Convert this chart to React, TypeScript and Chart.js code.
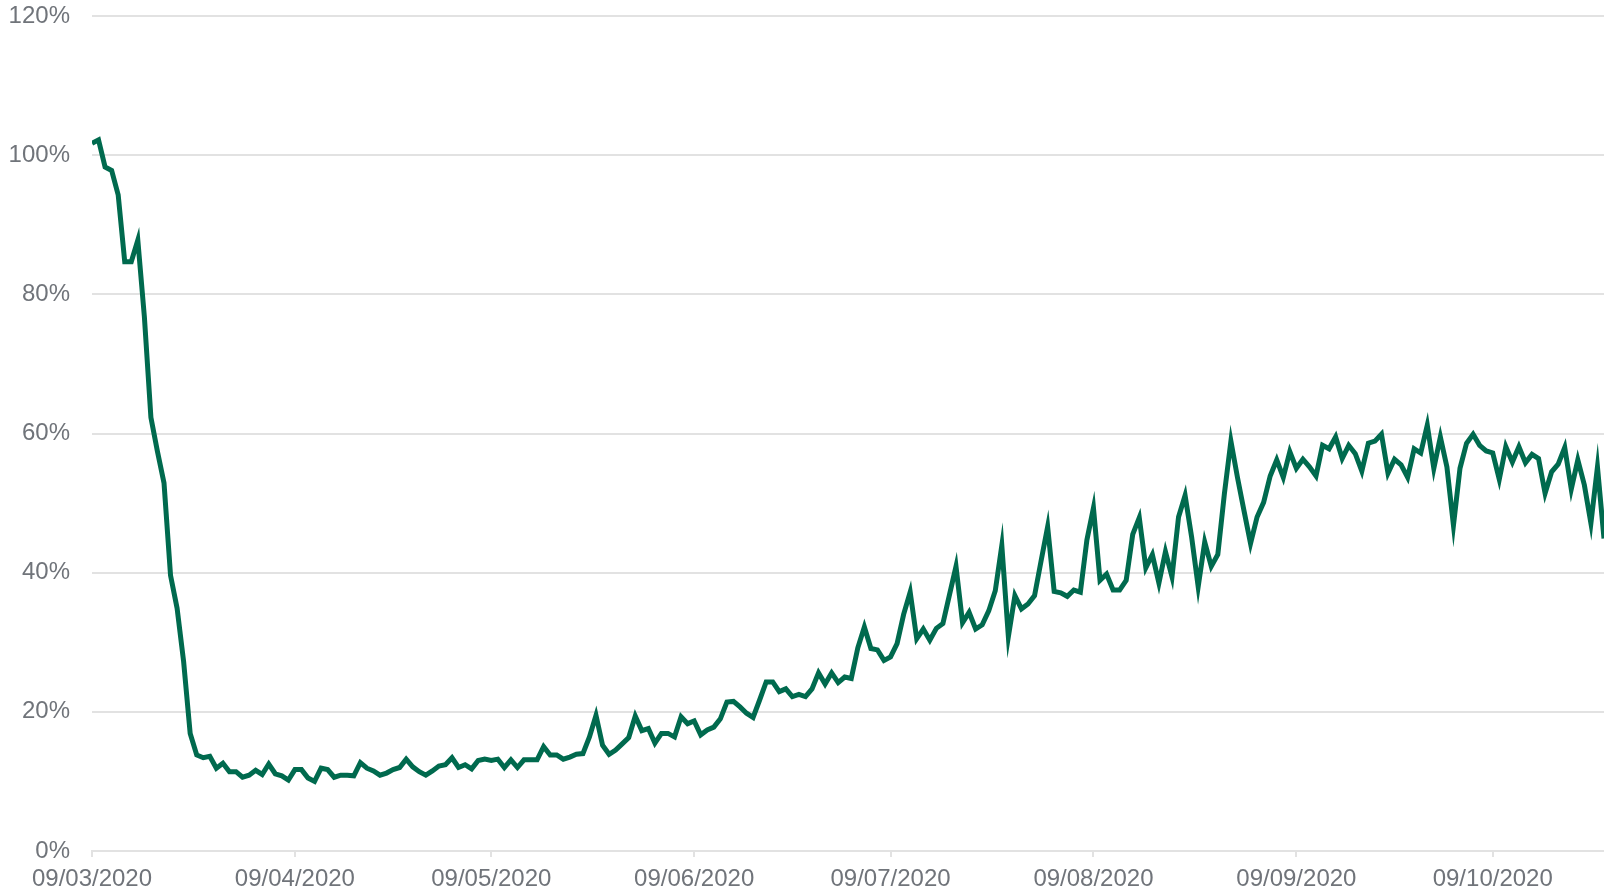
import React, { useEffect, useRef } from "react";
import { Chart, registerables } from "chart.js";

Chart.register(...registerables);

// Daily share (%) from 09/03/2020 (day 0) to 26/10/2020 (day 231)
const values: number[] = [
  101.7, 102.2, 98.3, 97.8, 94.3, 84.7, 84.7, 87.8, 76.8, 62.3,
  57.4, 52.9, 39.6, 34.9, 27.2, 16.9, 13.8, 13.4, 13.6, 11.9,
  12.6, 11.4, 11.4, 10.6, 10.9, 11.6, 11.0, 12.5, 11.1, 10.8,
  10.2, 11.7, 11.7, 10.5, 10.0, 11.9, 11.7, 10.6, 10.9, 10.9,
  10.8, 12.7, 11.9, 11.5, 10.9, 11.2, 11.7, 12.0, 13.2, 12.1,
  11.4, 10.9, 11.5, 12.2, 12.4, 13.4, 12.0, 12.4, 11.8, 13.0,
  13.2, 13.0, 13.2, 12.0, 13.1, 12.0, 13.1, 13.1, 13.1, 15.0,
  13.8, 13.8, 13.2, 13.5, 13.9, 14.0, 16.4, 19.5, 15.2, 13.9,
  14.5, 15.4, 16.3, 19.4, 17.3, 17.6, 15.5, 16.9, 16.9, 16.4,
  19.3, 18.3, 18.7, 16.7, 17.4, 17.8, 19.0, 21.4, 21.5, 20.7,
  19.8, 19.2, 21.7, 24.3, 24.3, 22.9, 23.3, 22.2, 22.5, 22.2,
  23.3, 25.6, 24.0, 25.6, 24.2, 25.0, 24.8, 29.2, 32.2, 29.1,
  28.9, 27.4, 27.9, 29.8, 34.0, 37.2, 30.5, 31.9, 30.3, 32.0,
  32.7, 36.8, 40.9, 32.8, 34.3, 31.9, 32.5, 34.5, 37.4, 43.9,
  30.8, 36.7, 34.8, 35.5, 36.7, 41.7, 46.6, 37.3, 37.1, 36.6,
  37.5, 37.2, 44.7, 49.3, 38.9, 39.8, 37.5, 37.5, 38.9, 45.5,
  47.9, 40.7, 42.6, 38.5, 43.0, 39.4, 48.0, 51.1, 45.1, 38.0,
  44.4, 40.9, 42.6, 51.3, 58.9, 53.7, 48.9, 44.2, 48.0, 50.1,
  53.9, 56.2, 53.7, 57.4, 55.0, 56.3, 55.2, 53.9, 58.3, 57.8,
  59.5, 56.4, 58.3, 57.1, 54.6, 58.6, 58.9, 59.9, 54.3, 56.3,
  55.5, 53.7, 57.8, 57.2, 61.2, 55.0, 59.5, 55.2, 46.8, 55.0,
  58.6, 59.9, 58.3, 57.5, 57.2, 53.4, 58.1, 55.9, 58.1, 55.8,
  57.0, 56.4, 51.4, 54.5, 55.6, 58.0, 52.0, 56.2, 52.6, 47.1,
  55.2, 44.9,
];

// Day index (from 09/03/2020) of each x tick, and its label
const tickDays: number[] = [0, 31, 61, 92, 122, 153, 184, 214];
const tickLabels: string[] = [
  "09/03/2020",
  "09/04/2020",
  "09/05/2020",
  "09/06/2020",
  "09/07/2020",
  "09/08/2020",
  "09/09/2020",
  "09/10/2020",
];

const yTicks: number[] = [0, 20, 40, 60, 80, 100, 120];

const LINE = "#006a4e";
const GRID = "#e2e2e2";
const TEXT = "#70747a";
const FONT = "'Liberation Sans', Arial, sans-serif";

export default function App() {
  const ref = useRef<HTMLCanvasElement | null>(null);

  useEffect(() => {
    if (!ref.current) return;
    const chart = new Chart(ref.current, {
      type: "line",
      data: {
        datasets: [
          {
            data: values.map((v, i) => ({ x: i, y: v })),
            borderColor: LINE,
            backgroundColor: LINE,
            borderWidth: 5,
            pointRadius: 0,
            tension: 0,
            fill: false,
          },
        ],
      },
      options: {
        animation: false,
        responsive: true,
        maintainAspectRatio: false,
        layout: { padding: { top: 16, right: 0, left: 0, bottom: 0 } },
        plugins: {
          legend: { display: false },
          tooltip: { enabled: false },
        },
        scales: {
          x: {
            type: "linear",
            min: 0,
            max: values.length - 1,
            afterBuildTicks: (scale: any) => {
              scale.ticks = tickDays.map((d) => ({ value: d }));
            },
            afterFit: (scale: any) => {
              scale.height = 43;
              scale.paddingLeft = 0;
              scale.paddingRight = 0;
            },
            ticks: {
              autoSkip: false,
              maxRotation: 0,
              padding: 8,
              color: TEXT,
              font: { size: 24, family: FONT },
              callback: (v: any) => {
                const i = tickDays.indexOf(Number(v));
                return i >= 0 ? tickLabels[i] : "";
              },
            },
            grid: {
              drawOnChartArea: false,
              drawTicks: true,
              tickLength: 6,
              color: GRID,
              lineWidth: 2,
            },
            border: { display: true, color: GRID, width: 2 },
          },
          y: {
            min: 0,
            max: 120,
            afterBuildTicks: (scale: any) => {
              scale.ticks = yTicks.map((v) => ({ value: v }));
            },
            afterFit: (scale: any) => {
              scale.width = 92;
              scale.paddingTop = 0;
              scale.paddingBottom = 0;
            },
            ticks: {
              padding: 22,
              color: TEXT,
              font: { size: 24, family: FONT },
              callback: (v: any) => v + "%",
            },
            grid: {
              drawTicks: false,
              color: GRID,
              lineWidth: 2,
            },
            border: { display: false },
          },
        },
      },
    });
    return () => chart.destroy();
  }, []);

  return (
    <div
      style={{
        position: "fixed",
        left: 0,
        top: 0,
        width: 1604,
        height: 894,
        background: "#fff",
      }}
    >
      <canvas ref={ref} />
    </div>
  );
}
